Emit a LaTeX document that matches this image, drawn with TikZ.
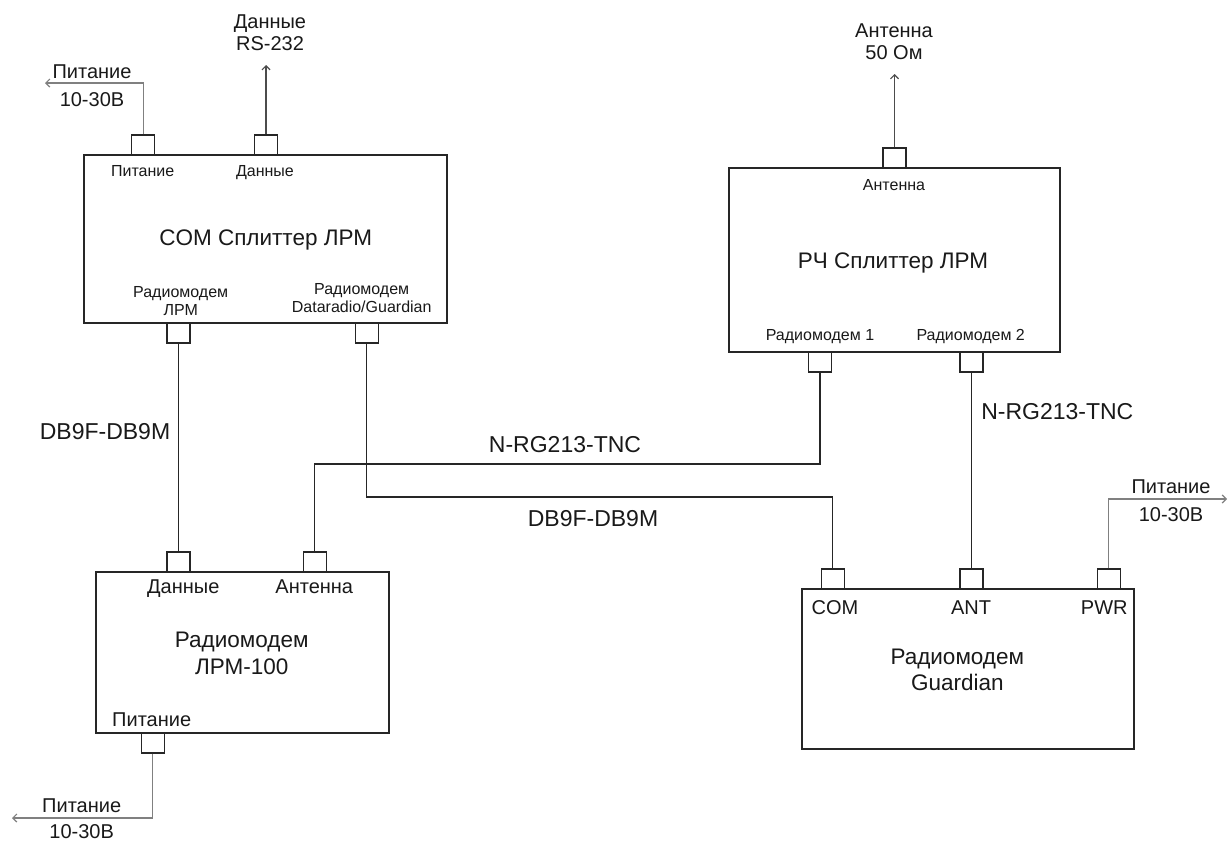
\documentclass[tikz,border=0pt]{standalone}
\usepackage{fontspec}
\setmainfont{Liberation Sans}
\usetikzlibrary{arrows.meta}
\newcommand{\myfs}[2]{\fontsize{#1}{#2}\selectfont}
\begin{document}
\begin{tikzpicture}[x=1pt,y=-1pt,
  dev/.style={draw=black!85,line width=1.4pt,inner sep=0pt},
  port/.style={draw=black!85,fill=white,line width=1.2pt,minimum width=23pt,minimum height=20pt,inner sep=0pt},
  wire/.style={draw=black!85,line width=1.3pt},
  outarrow/.style={draw=black!70,line width=1.2pt,-{Straight Barb[length=4pt,width=8pt]}},
  pwrarrow/.style={draw=black!50,line width=1.2pt,-{Straight Barb[length=4pt,width=8pt]}},
  slab/.style={font=\myfs{16}{18.5},inner sep=0pt,align=center,text=black!90},
  mlab/.style={font=\myfs{20}{22},inner sep=0pt,align=center,text=black!90},
  tlab/.style={font=\myfs{22.5}{26.5},inner sep=0pt,align=center,text=black!90},
  clab/.style={font=\myfs{23}{26},inner sep=0pt,align=center,text=black!90},
  bl/.style={anchor=base}]
\useasboundingbox[fill=white] (0,0) rectangle (1228,841);

% devices
\node[dev,minimum width=363pt,minimum height=168pt] (com) at (265.5,239) {};
\node[dev,minimum width=331pt,minimum height=184pt] (rf) at (894.5,260) {};
\node[dev,minimum width=293pt,minimum height=161pt] (lrm) at (242.5,652.5) {};
\node[dev,minimum width=332pt,minimum height=160pt] (grd) at (968,669) {};

% ports
\node[port] (cp1) at (143.3,145) {};
\node[port] (cp2) at (266,145) {};
\node[port] (cp3) at (178.5,333) {};
\node[port] (cp4) at (366.7,333) {};
\node[port] (rp0) at (894.5,158) {};
\node[port] (rp1) at (820,362) {};
\node[port] (rp2) at (971.5,362) {};
\node[port] (lp1) at (178.5,562) {};
\node[port] (lp2) at (314.7,562) {};
\node[port] (lp3) at (152.7,743) {};
\node[port] (gp1) at (832.7,579) {};
\node[port] (gp2) at (971.5,579) {};
\node[port] (gp3) at (1108.7,579) {};

% free ends
\coordinate (cpwr) at (45,83);
\coordinate (cdat) at (266,65);
\coordinate (rant) at (894.5,74);
\coordinate (lpwr) at (12,818);
\coordinate (gpwr) at (1227,499);

% external arrows
\draw[pwrarrow] (cp1.north) |- (cpwr);
\draw[outarrow] (cp2.north) -- (cdat);
\draw[outarrow] (rp0.north) -- (rant);
\draw[pwrarrow] (lp3.south) |- (lpwr);
\draw[pwrarrow] (gp3.north) |- (gpwr);

% cables
\draw[wire] (cp3.south) -- (lp1.north);
\draw[wire] (cp4.south) -- (366.7,497) -| (gp1.north);
\draw[wire] (rp1.south) -- (820,464) -| (lp2.north);
\draw[wire] (rp2.south) -- (gp2.north);

% external labels
\node[mlab,bl] (l1) at (92,78.2) {Питание};
\node[mlab,bl] (l2) at (92,106.2) {10-30В};
\node[mlab] (l3) at (270,33) {Данные\\RS-232};
\node[mlab] (l4) at (894,41.7) {Антенна\\50 Ом};
\node[mlab,bl] (l5) at (81.7,812.2) {Питание};
\node[mlab,bl] (l6) at (81.7,838.5) {10-30В};
\node[mlab,bl] (l7) at (1171,493.2) {Питание};
\node[mlab,bl] (l8) at (1171,521.2) {10-30В};

% COM splitter labels
\node[slab,bl] (c1) at (142.7,176.7) {Питание};
\node[slab,bl] (c2) at (265,176.7) {Данные};
\node[tlab,bl] (c3) at (265.7,245.1) {COM Сплиттер ЛРМ};
\node[slab] (c4) at (180.7,301) {Радиомодем\\ЛРМ};
\node[slab] (c5) at (361.7,298) {Радиомодем\\Dataradio/Guardian};

% RF splitter labels
\node[slab,bl] (r1) at (894,190) {Антенна};
\node[tlab,bl] (r2) at (893,268.1) {РЧ Сплиттер ЛРМ};
\node[slab,bl] (r3) at (820,340) {Радиомодем 1};
\node[slab,bl] (r4) at (970.7,340) {Радиомодем 2};

% LRM-100 labels
\node[mlab,bl] (m1) at (183.3,593.9) {Данные};
\node[mlab,bl] (m2) at (314.3,593.9) {Антенна};
\node[tlab] (m3) at (241.7,653.3) {Радиомодем\\ЛРМ-100};
\node[mlab,bl] (m4) at (151.7,726.2) {Питание};

% Guardian labels
\node[mlab,bl] (g1) at (835,614.9) {COM};
\node[mlab,bl] (g2) at (971,614.9) {ANT};
\node[mlab,bl] (g3) at (1104.3,614.9) {PWR};
\node[tlab] (g4) at (957.3,669.7) {Радиомодем\\Guardian};

% cable labels
\node[clab,bl] (k1) at (105,439) {DB9F-DB9M};
\node[clab,bl] (k2) at (565,452.3) {N-RG213-TNC};
\node[clab,bl] (k3) at (593,526.3) {DB9F-DB9M};
\node[clab,bl] (k4) at (1057.3,419) {N-RG213-TNC};
\end{tikzpicture}
\end{document}
